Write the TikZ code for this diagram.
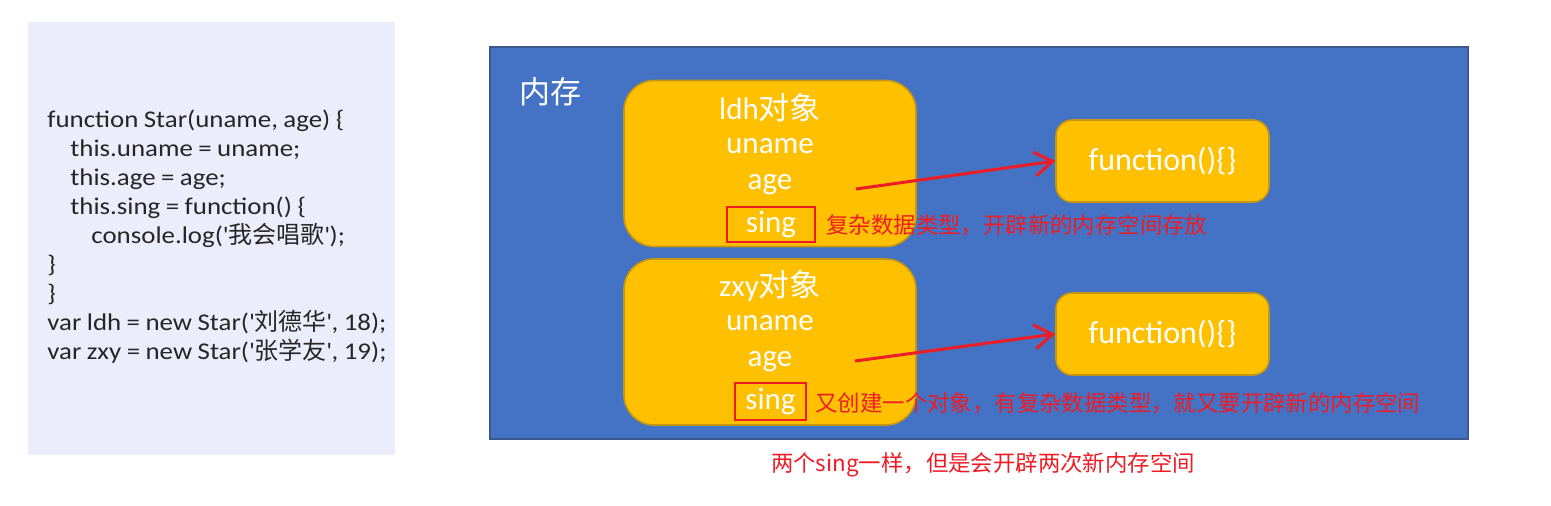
\documentclass[tikz,border=0pt]{standalone}
\usepackage{fontspec}
\setmainfont{Carlito}
\newfontfamily\codefont{Carlito}[FakeStretch=1.12, WordSpace=0.9]
\newfontfamily\cjk{Noto Sans CJK SC}
\usetikzlibrary{positioning,arrows.meta}
\definecolor{panel}{RGB}{236,237,250}
\definecolor{memblue}{RGB}{68,114,196}
\definecolor{memline}{RGB}{62,88,140}
\definecolor{objfill}{RGB}{255,192,0}
\definecolor{objline}{RGB}{196,150,20}
\definecolor{notered}{RGB}{238,28,37}
\newcommand{\q}{\textquotesingle}

\begin{document}
\begin{tikzpicture}[x=0.5pt, y=-0.5pt,
    obj/.style={draw=objline, fill=objfill, line width=0.8pt, rounded corners=15pt,
      minimum width=146pt, minimum height=83pt},
    fn/.style={obj, rounded corners=8pt, minimum width=106.5pt, minimum height=41pt,
      text=white, font=\fontsize{16}{19}\selectfont},
    field/.style={text=white, inner sep=0pt, font=\fontsize{15.5}{18}\selectfont},
    singbox/.style={field, draw=notered, line width=1.2pt, minimum height=17.5pt},
    note/.style={text=notered, inner sep=0pt, font=\fontsize{11.2}{14}\selectfont\cjk},
    ptr/.style={-{Straight Barb[length=9pt, width=12pt]}, line width=1.5pt, draw=notered}]
  \useasboundingbox (0,0) rectangle (1551,505);
  % code on the left
  \fill[panel] (28,22) rectangle (395,455);
  \node[anchor=north west, align=left, inner sep=0pt, text=black!85,
    font=\fontsize{12}{14.5}\selectfont\codefont] (code) at (47,110) {%
    function Star(uname, age) \{\\
    \hspace*{11.5pt}this.uname = uname;\\
    \hspace*{11.5pt}this.age = age;\\
    \hspace*{11.5pt}this.sing = function() \{\\
    \hspace*{22pt}console.log(\q{\cjk 我会唱歌}\q);\\
    \}\\
    \}\\
    var ldh = new Star(\q{\cjk 刘德华}\q, 18);\\
    var zxy = new Star(\q{\cjk 张学友}\q, 19);};
  % memory
  \draw[memline, fill=memblue, line width=0.8pt] (490,47) rectangle (1468,439);
  \node[field, font=\fontsize{15.5}{18}\selectfont\cjk] (mem) at (550,92) {内存};
  \node[obj] (ldh) at (770,163.5) {};
  \node[obj] (zxy) at (770,342) {};
  \node[fn] (f1) at (1162.5,161) {function()\{\}};
  \node[fn] (f2) at (1162.5,334) {function()\{\}};
  \node[field] (ldhname) at (770,108) {ldh{\cjk 对象}};
  \node[field] (ldhuname) at (770,146) {uname};
  \node[field] (ldhage) at (770,185) {age};
  \node[singbox, minimum width=44pt] (ldhsing) at (771,224.5) {sing};
  \node[field] (zxyname) at (770,286) {zxy{\cjk 对象}};
  \node[field] (zxyuname) at (770,323) {uname};
  \node[field] (zxyage) at (770,362) {age};
  \node[singbox, minimum width=35.5pt, minimum height=18.5pt] (zxysing) at (770.5,401.5) {sing};
  \coordinate (p1) at (856,189);
  \coordinate (p2) at (855,361);
  \draw[ptr] (p1) -- (f1.west);
  \draw[ptr] (p2) -- (f2.west);
  \node[note, anchor=west] (n1) at (826,225) {复杂数据类型，开辟新的内存空间存放};
  \node[note, anchor=west] (n2) at (815,403) {又创建一个对象，有复杂数据类型，就又要开辟新的内存空间};
  \node[note] (n3) at (983,465) {两个sing一样，但是会开辟两次新内存空间};
\end{tikzpicture}
\end{document}
